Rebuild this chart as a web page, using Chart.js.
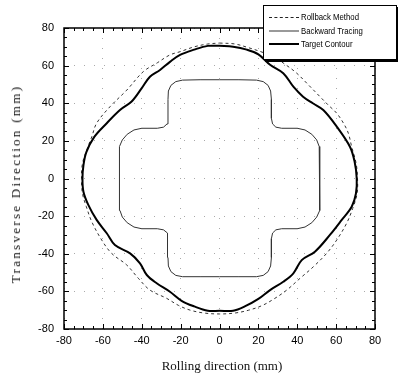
<!DOCTYPE html>
<html lang="en">
    <head>
        <meta charset="UTF-8">
        <title>Contour comparison</title>
        <script src="https://cdn.jsdelivr.net/npm/chart.js@4.4.1/dist/chart.umd.min.js"></script>
        <style>
            body { margin: 0; background: #fff; }
            .wrap { position: relative; width: 398px; height: 378px; }
            #legend {
                position: absolute; left: 263px; top: 5px; width: 132px; height: 53px;
                border: 1px solid #000; box-shadow: 2px 2px 0 #000; background: #fff;
                font-family: "Liberation Sans", Arial, sans-serif; font-size: 9.5px; color: #000;
            }
            #legend .row { position: absolute; left: 5px; height: 12px; width: 130px; }
            #legend .sw { position: absolute; left: 0; top: 6px; width: 30px; }
            #legend .lab { position: absolute; left: 32px; top: 0; line-height: 12px; white-space: nowrap; transform: scaleX(0.82); transform-origin: left center; }
            .ytitle, .xtitle { position: absolute; font-family: "Liberation Serif", "Times New Roman", serif; white-space: nowrap; color: #111; }
            .ytitle { left: 16px; top: 184px; font-size: 13px; letter-spacing: 2.3px; transform: translate(-50%, -50%) rotate(-90deg); }
            .xtitle { left: 222px; top: 366px; font-size: 13px; transform: translate(-50%, -50%); }
        </style>
    </head>
    <body>
        <div class="wrap">
            <canvas id="contourChart" width="398" height="378"></canvas>
            <div class="ytitle">Transverse Direction (mm)</div>
            <div class="xtitle">Rolling direction (mm)</div>
            <div id="legend">
                <div class="row" style="top:5px"><span class="sw" style="border-top:1px dashed #222"></span><span class="lab">Rollback Method</span></div>
                <div class="row" style="top:19px"><span class="sw" style="border-top:2px solid #999;top:5px"></span><span class="lab">Backward Tracing</span></div>
                <div class="row" style="top:32px"><span class="sw" style="border-top:2px solid #000;top:5px"></span><span class="lab">Target Contour</span></div>
            </div>
        </div>

        <script>
            const tickValues = [-80, -60, -40, -20, 0, 20, 40, 60, 80];

            // rollback method (dashed), clockwise from the top
            const rollback = [
                [0, 72], [8, 71.5], [15, 69.5], [21, 67.5], [27.7, 64.8], [34, 60.5], [39.7, 56], [46, 49.5],
                [51.7, 43.5], [56, 39], [60.3, 34.7], [64, 29], [66.3, 24], [68, 16.9], [70.3, 8], [71, 0],
                [70.8, -8], [68.5, -16], [65.4, -23.8], [60.3, -32.7], [55.1, -39.8], [48.3, -46.9], [41.4, -53.1],
                [34.6, -59.3], [28.5, -63.7], [22, -67.5], [15, -70], [8, -71.5], [0, -72],
                [-8, -71.5], [-15, -70], [-21, -67.5], [-27.2, -63.7], [-35.8, -59.3], [-41.8, -53], [-47.7, -46],
                [-55.5, -39.8], [-60.6, -32.7], [-65.7, -23], [-68.5, -15], [-70.5, -8], [-71, 0],
                [-70.5, 8], [-68, 16], [-65.7, 22.2], [-63.2, 29.4], [-56.3, 38.2], [-47.7, 47], [-39.2, 56.8],
                [-32, 61.5], [-25.5, 65.7], [-20.3, 67.4], [-13, 70], [-6, 71.5], [0, 72]
            ];

            // backward tracing (thin), clockwise from the top
            const backward = [
                [0, 52.5], [10, 52.5], [19, 52.3], [22.5, 51.5], [25, 49.5], [26.3, 46.5], [26.7, 42], [26.7, 32],
                [27.3, 29], [29, 27.3], [32, 26.7], [40, 26.7], [44, 25.8], [47.5, 23.5], [50, 20.5], [51.3, 17],
                [51.7, 12], [51.7, -12], [51.3, -17], [50, -20.5], [47.5, -23.5], [44, -25.8], [40, -26.7],
                [32, -26.7], [29, -27.3], [27.3, -29], [26.7, -32], [26.7, -42], [26.3, -46.5], [25, -49.5],
                [22.5, -51.5], [19, -52.2], [10, -52.2], [0, -52.2],
                [-10, -52.2], [-19, -52.2], [-22.5, -51.5], [-25, -49.5], [-26.3, -46.5], [-26.5, -42], [-26.5, -32],
                [-27, -29], [-28.8, -27.3], [-32, -26.7], [-40, -26.7], [-44, -25.8], [-47.5, -23.5], [-50, -20.5],
                [-51.2, -17], [-51.6, -12], [-51.6, 12], [-51.2, 17], [-50, 20.5], [-47.5, 23.5], [-44, 25.8],
                [-40, 26.7], [-32, 26.7], [-28.8, 27.3], [-27, 29], [-26.5, 32], [-26.5, 42], [-26.3, 46.5],
                [-25, 49.5], [-22.5, 51.5], [-19, 52.3], [-10, 52.5], [0, 52.5]
            ];

            // target contour (thick), clockwise from the top
            const target = [
                [0, 70.5], [7, 70], [14, 68.5], [20, 66], [26, 60.5], [32.8, 56], [38, 48.8], [43, 43.5],
                [48, 40], [53.4, 36.4], [60.3, 27.6], [67.1, 16.9], [69.5, 9], [70.6, 0],
                [70.2, -8], [68, -15], [62.9, -22], [56.8, -30], [49.1, -38.9], [42.3, -43.4], [38, -50.4],
                [32.8, -54.9], [26, -59.3], [20, -64], [13, -68], [7, -70.3], [0, -70.3],
                [-6, -70.3], [-13, -68], [-19.5, -65], [-25.5, -60.2], [-32.3, -55.7], [-37.4, -51.3], [-40.9, -45.1],
                [-46, -39.8], [-53.8, -35.4], [-58, -29.1], [-63.2, -22], [-67.5, -14], [-70, -7], [-70.5, 0],
                [-70, 7], [-68.5, 14], [-64.5, 22], [-58, 29.4], [-51.2, 36.4], [-45.2, 40.9], [-40, 48],
                [-35.8, 54.1], [-30.6, 57.7], [-25.5, 62], [-20.3, 65.7], [-13, 68.5], [-6, 70.5], [0, 70.5]
            ];

            const toXY = pts => pts.map(p => ({x: p[0], y: p[1]}));

            // inward ticks and the box round the plot
            const frameTicks = {
                id: 'frameTicks',
                afterDatasetsDraw(chart) {
                    const {ctx, chartArea: a, scales: {x, y}} = chart;
                    ctx.save();
                    ctx.strokeStyle = '#000';
                    ctx.lineWidth = 1;
                    ctx.beginPath();
                    for (let v = -80; v <= 80; v += 5) {
                        const len = tickValues.includes(v) ? 5 : 3;
                        const px = Math.round(x.getPixelForValue(v)) + 0.5;
                        const py = Math.round(y.getPixelForValue(v)) + 0.5;
                        ctx.moveTo(px, a.bottom); ctx.lineTo(px, a.bottom - len);
                        ctx.moveTo(px, a.top); ctx.lineTo(px, a.top + len);
                        ctx.moveTo(a.left, py); ctx.lineTo(a.left + len, py);
                        ctx.moveTo(a.right, py); ctx.lineTo(a.right - len, py);
                    }
                    ctx.stroke();
                    ctx.lineWidth = 1.5;
                    ctx.strokeRect(a.left, a.top, a.right - a.left, a.bottom - a.top);
                    ctx.restore();
                }
            };

            const axisTicks = axis => { axis.ticks = tickValues.map(v => ({value: v})); };
            const tickFont = {family: "'Liberation Sans', Arial, sans-serif", size: 11};

            new Chart("contourChart", {
                type: "scatter",
                data: {
                    datasets: [
                        {
                            label: "Target Contour",
                            data: toXY(target),
                            showLine: true,
                            borderColor: "#000",
                            borderWidth: 2,
                            pointRadius: 0,
                            tension: 0.35
                        },
                        {
                            label: "Backward Tracing",
                            data: toXY(backward),
                            showLine: true,
                            borderColor: "#333",
                            borderWidth: 1,
                            pointRadius: 0,
                            tension: 0
                        },
                        {
                            label: "Rollback Method",
                            data: toXY(rollback),
                            showLine: true,
                            borderColor: "#333",
                            borderWidth: 1,
                            borderDash: [3, 3],
                            pointRadius: 0,
                            tension: 0.35
                        }
                    ]
                },
                options: {
                    responsive: false,
                    animation: false,
                    layout: {padding: {top: 28, right: 23, left: 0, bottom: 0}},
                    plugins: {legend: {display: false}, tooltip: {enabled: false}},
                    scales: {
                        x: {
                            min: -80, max: 80,
                            afterBuildTicks: axisTicks,
                            afterFit: s => { s.height = 49; },
                            grid: {color: "#aaa", drawTicks: false},
                            border: {display: false, dash: [1, 9]},
                            ticks: {color: "#000", font: tickFont, padding: 5, maxRotation: 0}
                        },
                        y: {
                            min: -80, max: 80,
                            afterBuildTicks: axisTicks,
                            afterFit: s => { s.width = 64; },
                            grid: {color: "#aaa", drawTicks: false},
                            border: {display: false, dash: [1, 9]},
                            ticks: {color: "#000", font: tickFont, padding: 10}
                        }
                    }
                },
                plugins: [frameTicks]
            });
        </script>
    </body>
</html>
